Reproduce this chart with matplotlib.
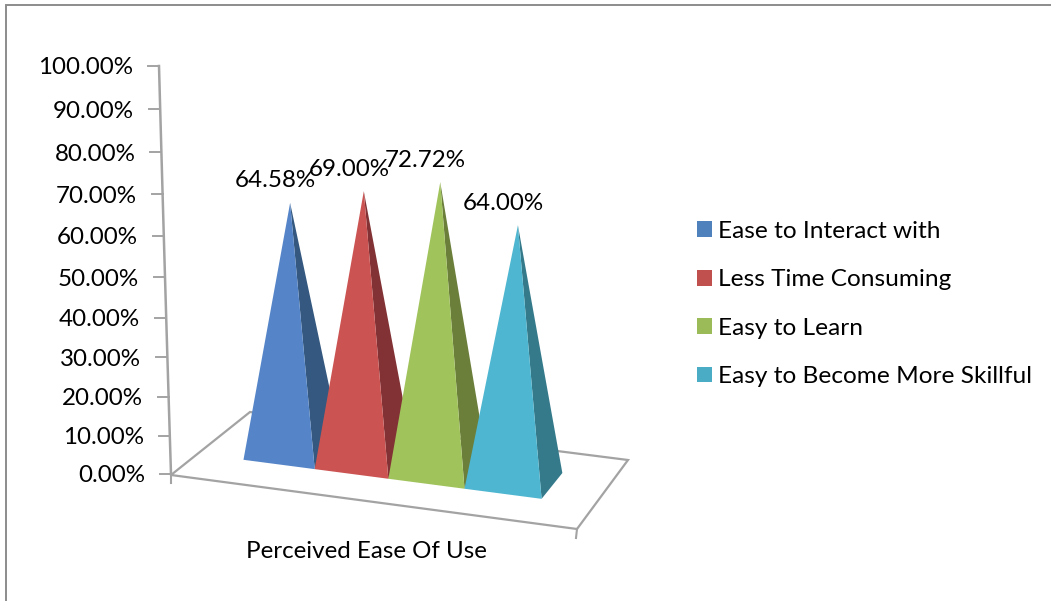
import numpy as np
import matplotlib
matplotlib.use("Agg")
import matplotlib.pyplot as plt
from matplotlib.patches import Polygon, Patch

series_names = ["Ease to Interact with", "Less Time Consuming", "Easy to Learn", "Easy to Become More Skillful"]
series_values = [64.58, 69.00, 72.72, 64.00]
category = "Perceived Ease Of Use"
axis_ticks = [0, 10, 20, 30, 40, 50, 60, 70, 80, 90, 100]

front_colors = ["#5585C8", "#CB5452", "#A1C35C", "#4EB6D0"]
side_colors = ["#34587F", "#823234", "#6B7F3B", "#357A8B"]
legend_colors = ["#4F81BD", "#C0504D", "#9BBB59", "#4BACC6"]
GREY = "#a3a3a3"
FONT = "Lato"
FS = 17.4

# Floor of the 3D scene: (u, depth) unit square mapped to screen pixels
floor_src = [(0, 0), (1, 0), (1, 1), (0, 1)]
floor_dst = [(171, 475), (577, 529), (628, 460), (250, 412)]
A, b = [], []
for (u, d), (x, y) in zip(floor_src, floor_dst):
    A.append([u, d, 1, 0, 0, 0, -u * x, -d * x]); b.append(x)
    A.append([0, 0, 0, u, d, 1, -u * y, -d * y]); b.append(y)
H = np.append(np.linalg.solve(np.array(A, float), np.array(b, float)), 1).reshape(3, 3)


def floor_xy(u, d):
    p = H @ np.array([u, d, 1.0])
    return p[:2] / p[2]


def wall_height(v):
    # Vertical perspective: upper gridline spacing is a little wider
    return v * (3.8 + 0.0028 * v)


def axis_xy(v):
    return 171 - 0.12 * v, 474 - wall_height(v)


def apex_xy(u, d, v):
    cx, cy = floor_xy(u, d)
    lean = -0.047 + (u - 0.206) * 0.19
    return cx + lean * v, cy - wall_height(v) * (0.957 + 0.06 * u)


fig = plt.figure(figsize=(10.51, 6.01), dpi=100)
ax = fig.add_axes([0, 0, 1, 1])
ax.set_xlim(0, 1051)
ax.set_ylim(601, 0)
ax.axis("off")

# Outer chart border (top and left only are in view)
ax.plot([5.5, 5.5, 1051], [601, 4.5, 4.5], color="#8c8c8c", lw=1.4, solid_joinstyle="miter")

# Floor outline
ax.add_patch(Polygon(floor_dst, closed=True, fill=False, ec=GREY, lw=1.6, zorder=1))
ax.plot([171, 171], [475, 483], color=GREY, lw=1.5, zorder=1)
ax.plot([577, 576], [529, 538], color=GREY, lw=1.5, zorder=1)

# Value axis with ticks and percentage labels
ax.plot(*zip(*[axis_xy(v) for v in axis_ticks]), color=GREY, lw=1.8, zorder=1)
for v in axis_ticks:
    x, y = axis_xy(v)
    ax.plot([x - 11, x], [y, y], color=GREY, lw=1.4, zorder=1)
    ax.text(x - 26, y + 2, f"{v:.2f}%", ha="right", va="center",
            family=FONT, fontsize=FS, color="black")

# Pyramids, drawn left to right so each one overlaps its neighbour's shaded side
edges = [0.119, 0.302, 0.489, 0.680, 0.871]
d_front, d_back = 0.32, 0.70
for i, v in enumerate(series_values):
    u0, u1 = edges[i], edges[i + 1]
    um, dm = (u0 + u1) / 2, (d_front + d_back) / 2
    apex = apex_xy(um, dm, v)
    fl, fr, br = floor_xy(u0, d_front), floor_xy(u1, d_front), floor_xy(u1, d_back)
    ax.add_patch(Polygon([fr, br, apex], closed=True, fc=side_colors[i], ec="none", zorder=2 + i))
    ax.add_patch(Polygon([fl, fr, apex], closed=True, fc=front_colors[i], ec="none", zorder=2 + i))
    ax.annotate(f"{v:.2f}%", apex, xytext=(-15, 22), textcoords="offset pixels",
                ha="center", va="center", family=FONT, fontsize=FS, color="black", zorder=10)

ax.text(366, 552, category, ha="center", va="center", family=FONT, fontsize=FS, color="black")

handles = [Patch(fc=c, ec="none") for c in legend_colors]
ax.legend(handles, series_names, loc="upper left", bbox_to_anchor=(697 / 1051, 1 - 221 / 601),
          frameon=False, prop={"family": FONT, "size": 17.6}, borderpad=0, borderaxespad=0,
          handlelength=0.62, handleheight=0.62, handletextpad=0.25, labelspacing=1.12)

fig.savefig("out.png", dpi=100)
